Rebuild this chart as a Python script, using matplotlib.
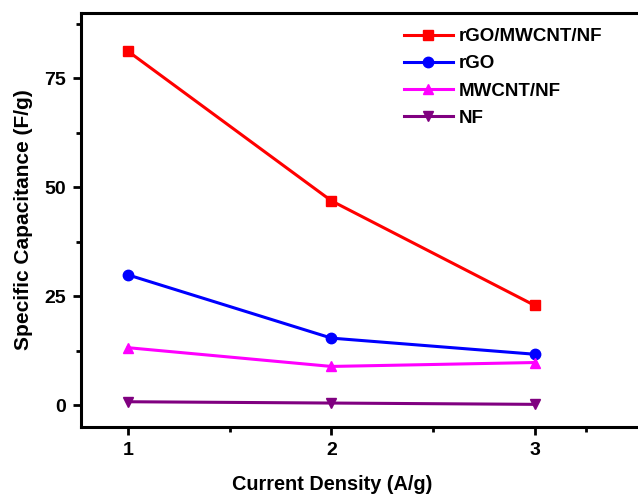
import matplotlib
matplotlib.use('Agg')
import matplotlib.pyplot as plt
from matplotlib.ticker import MultipleLocator, FixedLocator

plt.rcParams['font.family'] = ['Liberation Sans', 'DejaVu Sans']
plt.rcParams['font.weight'] = 'bold'

# data
current = [1, 2, 3]
labels = ['rGO/MWCNT/NF', 'rGO', 'MWCNT/NF', 'NF']
rgo_mwcnt_nf = [81.2, 46.9, 22.9]
rgo = [29.9, 15.4, 11.7]
mwcnt_nf = [13.2, 8.9, 9.8]
nf = [0.8, 0.5, 0.2]

series = [rgo_mwcnt_nf, rgo, mwcnt_nf, nf]
colors = ['#ff0000', '#0000ff', '#ff00ff', '#800080']
markers = ['s', 'o', '^', 'v']

fig = plt.figure(figsize=(6.38, 4.94), dpi=100)
ax = fig.add_axes([0.127, 0.1356, 0.88, 0.838])

for vals, lab, c, m in zip(series, labels, colors, markers):
    ax.plot(current, vals, color=c, marker=m, lw=2.2, ms=7.5, label=lab)

ax.set_xlim(0.768, 3.53)
ax.set_ylim(-5, 90)
ax.set_xticks(current)
ax.xaxis.set_minor_locator(FixedLocator([1.5, 2.5, 3.25]))
ax.yaxis.set_major_locator(MultipleLocator(25))
ax.yaxis.set_minor_locator(MultipleLocator(12.5))

for s in ax.spines.values():
    s.set_linewidth(2.2)
ax.spines['right'].set_visible(False)

ax.tick_params(which='major', direction='out', length=6, width=2, labelsize=14, pad=5)
ax.tick_params(which='minor', direction='out', length=3.5, width=2)
for t in ax.get_xticklabels() + ax.get_yticklabels():
    t.set_fontweight('bold')

ax.set_xlabel('Current Density (A/g)', fontsize=14.3, fontweight='bold')
ax.xaxis.set_label_coords(0.447, -0.115)
ax.set_ylabel('Specific Capacitance (F/g)', fontsize=15, fontweight='bold', labelpad=8)

ax.legend(loc='upper left', bbox_to_anchor=(0.545, 1.004), frameon=False,
          prop={'size': 13.5, 'weight': 'bold'}, handlelength=2.6,
          handletextpad=0.3, labelspacing=0.53)

fig.savefig('out.png', dpi=100)
